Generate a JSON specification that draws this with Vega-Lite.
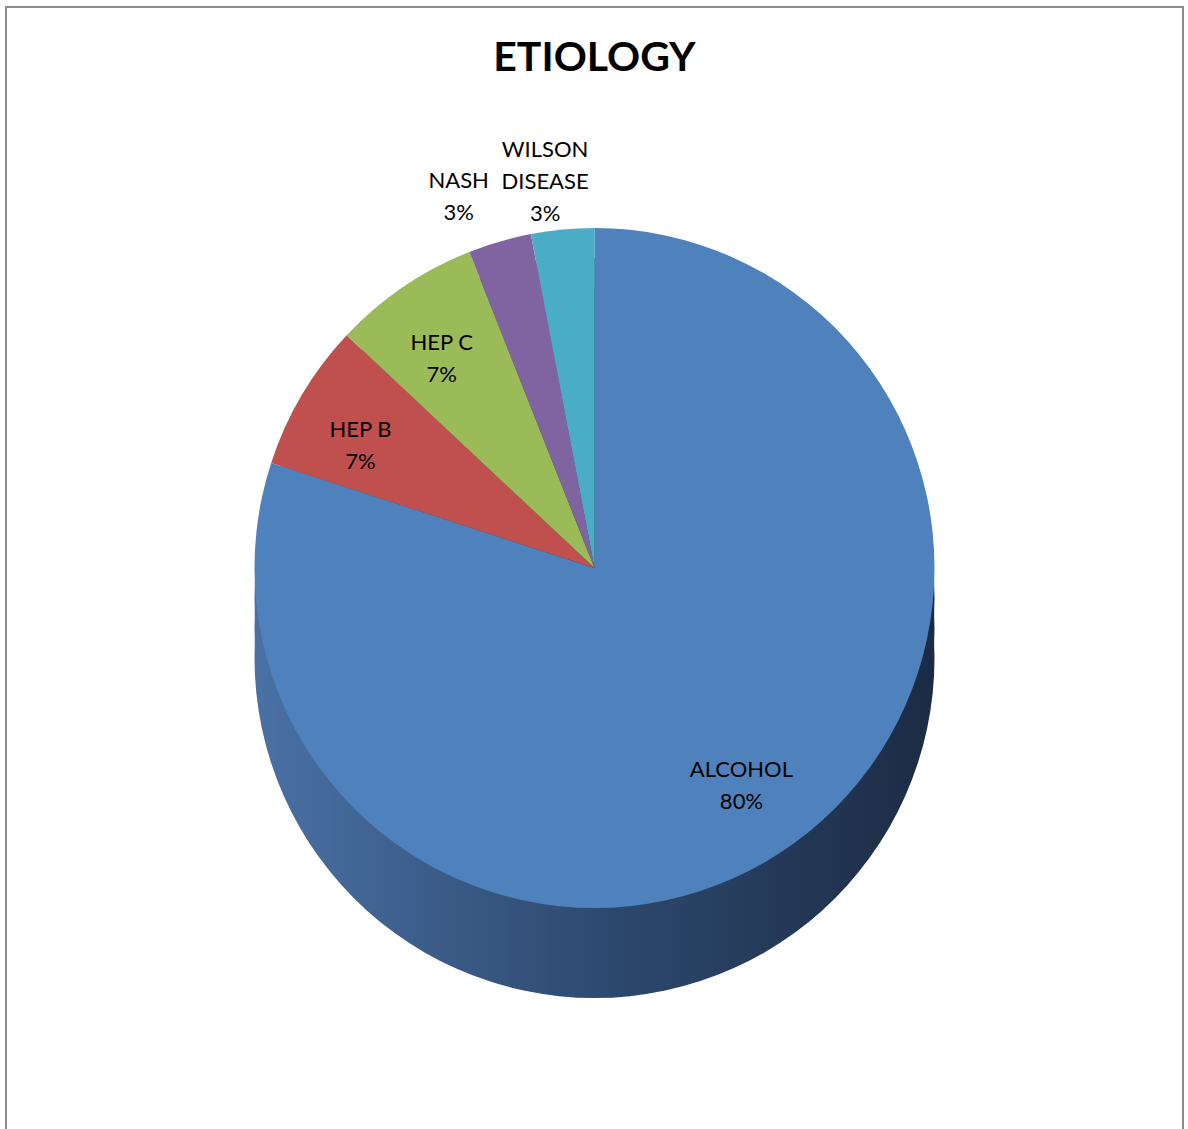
{
  "$schema": "https://vega.github.io/schema/vega-lite/v6.json",
  "width": 1177,
  "height": 1122,
  "autosize": {"type": "none"},
  "padding": {"left": 6, "top": 7, "right": 5, "bottom": 0},
  "background": "white",
  "config": {"view": {"stroke": null}, "font": "Lato"},
  "title": {
    "text": "ETIOLOGY",
    "font": "Lato",
    "fontSize": 41,
    "fontWeight": "bold",
    "color": "#000000",
    "anchor": "middle",
    "baseline": "alphabetic",
    "offset": -106
  },
  "data": {
    "values": [
      {"cause": "ALCOHOL", "pct": 80, "ord": 1},
      {"cause": "HEP B", "pct": 7, "ord": 2},
      {"cause": "HEP C", "pct": 7, "ord": 3},
      {"cause": "NASH", "pct": 3, "ord": 4},
      {"cause": "WILSON DISEASE", "pct": 3, "ord": 5}
    ]
  },
  "transform": [
    {"calculate": "datum.cause + '|' + datum.pct + '%'", "as": "inLabel"},
    {"calculate": "datum.cause + ' ' + datum.pct + '%'", "as": "outLabel"}
  ],
  "layer": [
    {
      "transform": [{"aggregate": [{"op": "count", "as": "n"}]}],
      "mark": {"type": "rect", "fill": null, "stroke": "#8c8c8c", "strokeWidth": 2, "strokeDash": [2299, 1177, 1122]}
    },
    {
      "mark": {
        "type": "arc", "radius": 340, "yOffset": 90,
        "color": {"gradient": "linear", "x1": 0, "y1": 0, "x2": 1, "y2": 0,
          "stops": [{"offset": 0, "color": "#4a71a5"}, {"offset": 0.5, "color": "#2e4a70"}, {"offset": 1, "color": "#1c2b44"}]}
      },
      "encoding": {
        "theta": {"field": "pct", "type": "quantitative", "stack": true},
        "order": {"field": "ord", "type": "quantitative"}
      }
    },
    {
      "mark": {
        "type": "arc", "radius": 340, "yOffset": 60,
        "color": {"gradient": "linear", "x1": 0, "y1": 0, "x2": 1, "y2": 0,
          "stops": [{"offset": 0, "color": "#4a71a5"}, {"offset": 0.5, "color": "#2e4a70"}, {"offset": 1, "color": "#1c2b44"}]}
      },
      "encoding": {
        "theta": {"field": "pct", "type": "quantitative", "stack": true},
        "order": {"field": "ord", "type": "quantitative"}
      }
    },
    {
      "mark": {
        "type": "arc", "radius": 340, "yOffset": 30,
        "color": {"gradient": "linear", "x1": 0, "y1": 0, "x2": 1, "y2": 0,
          "stops": [{"offset": 0, "color": "#4a71a5"}, {"offset": 0.5, "color": "#2e4a70"}, {"offset": 1, "color": "#1c2b44"}]}
      },
      "encoding": {
        "theta": {"field": "pct", "type": "quantitative", "stack": true},
        "order": {"field": "ord", "type": "quantitative"}
      }
    },
    {
      "mark": {"type": "arc", "radius": 340},
      "encoding": {
        "theta": {"field": "pct", "type": "quantitative", "stack": true},
        "order": {"field": "ord", "type": "quantitative"},
        "color": {
          "field": "cause", "type": "nominal", "legend": null,
          "scale": {
            "domain": ["ALCOHOL", "HEP B", "HEP C", "NASH", "WILSON DISEASE"],
            "range": ["#4f81bd", "#c0504d", "#9bbb59", "#8064a2", "#4bacc6"]
          }
        }
      }
    },
    {
      "mark": {"type": "text", "radius": 250, "fontSize": 22, "lineBreak": "|", "lineHeight": 32, "color": "#000000"},
      "encoding": {
        "theta": {"field": "pct", "type": "quantitative", "stack": true},
        "order": {"field": "ord", "type": "quantitative"},
        "text": {"condition": {"test": "datum.cause === 'ALCOHOL'", "field": "inLabel", "type": "nominal"}, "value": ""}
      }
    },
    {
      "mark": {"type": "text", "radius": 272, "fontSize": 22, "lineBreak": "|", "lineHeight": 32, "color": "#000000"},
      "encoding": {
        "theta": {"field": "pct", "type": "quantitative", "stack": true},
        "order": {"field": "ord", "type": "quantitative"},
        "text": {"condition": {"test": "datum.cause === 'HEP B' || datum.cause === 'HEP C'", "field": "inLabel", "type": "nominal"}, "value": ""}
      }
    },
    {
      "mark": {"type": "text", "radius": 390, "dx": -27, "fontSize": 22, "lineBreak": " ", "lineHeight": 32, "baseline": "bottom", "color": "#000000"},
      "encoding": {
        "theta": {"field": "pct", "type": "quantitative", "stack": true},
        "order": {"field": "ord", "type": "quantitative"},
        "text": {"condition": {"test": "datum.cause === 'NASH'", "field": "outLabel", "type": "nominal"}, "value": ""}
      }
    },
    {
      "mark": {"type": "text", "radius": 408, "dx": -11, "fontSize": 22, "lineBreak": " ", "lineHeight": 32, "baseline": "bottom", "color": "#000000"},
      "encoding": {
        "theta": {"field": "pct", "type": "quantitative", "stack": true},
        "order": {"field": "ord", "type": "quantitative"},
        "text": {"condition": {"test": "datum.cause === 'WILSON DISEASE'", "field": "outLabel", "type": "nominal"}, "value": ""}
      }
    }
  ]
}
